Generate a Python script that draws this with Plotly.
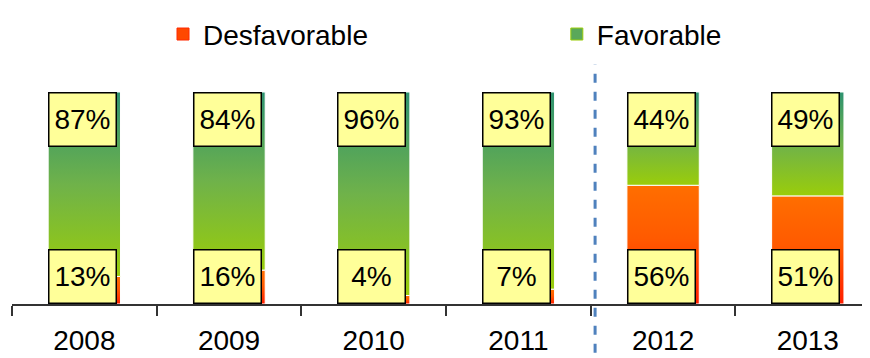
import plotly.graph_objects as go

years = ["2008", "2009", "2010", "2011", "2012", "2013"]
desfavorable = [13, 16, 4, 7, 56, 51]
favorable = [87, 84, 96, 93, 44, 49]

FONT = "Liberation Sans, Arial, sans-serif"
HALF = 0.25  # half bar width in category units

RED_SCALE = [[0, "#ff1f00"], [0.55, "#ff5a00"], [1, "#ff6e00"]]
GREEN_SCALE = [[0, "#9acd0a"], [0.5, "#6fb24a"], [1, "#2e9270"]]

fig = go.Figure()


def add_segment(i, lo, hi, scale, name):
    fig.add_trace(
        go.Scatter(
            x=[i - HALF, i + HALF, i + HALF, i - HALF, i - HALF],
            y=[lo, lo, hi, hi, lo],
            mode="lines",
            fill="toself",
            fillgradient=dict(type="vertical", colorscale=scale, start=lo, stop=hi),
            line=dict(color="white", width=1),
            name=name,
            showlegend=False,
            hoverinfo="skip",
        )
    )


for i, (d, f) in enumerate(zip(desfavorable, favorable)):
    add_segment(i, 0, d, RED_SCALE, "Desfavorable")
    add_segment(i, d, d + f, GREEN_SCALE, "Favorable")

# legend-only entries (square swatches)
fig.add_trace(go.Bar(x=[None], y=[None], name="Desfavorable", legend="legend",
                     marker=dict(color="#ff4800", line=dict(color="#ff2a00", width=1))))
fig.add_trace(go.Bar(x=[None], y=[None], name="Favorable", legend="legend2",
                     marker=dict(color="#5aa85a", line=dict(color="#9acd0a", width=1))))

# percentage label boxes
for i, (d, f) in enumerate(zip(desfavorable, favorable)):
    for val, ypos in ((d, 13.2), (f, 87.2)):
        fig.add_annotation(
            x=i, y=ypos, xref="x", yref="y",
            text=f"{val}%", showarrow=False,
            font=dict(family=FONT, size=28, color="black"),
            bgcolor="#ffff99", bordercolor="black", borderwidth=1.5,
            borderpad=2, width=62, height=48, xshift=-2,
        )

# separator line between 2011 and 2012
fig.add_shape(
    type="line", xref="x", yref="paper",
    x0=3.53, x1=3.53, y0=-0.23, y1=1.13,
    line=dict(color="#4f81bd", width=3, dash="dash"),
)

legend_style = dict(
    orientation="h", yanchor="top", y=1.39, xanchor="left",
    font=dict(family=FONT, size=28, color="black"),
    bgcolor="rgba(0,0,0,0)", itemwidth=30,
)

# page body has an 8px margin, so the figure is sized/offset to compensate
fig.update_layout(
    width=862, height=350,
    margin=dict(l=4, r=0, t=84, b=54, autoexpand=False),
    paper_bgcolor="white", plot_bgcolor="white",
    font=dict(family=FONT, size=28, color="black"),
    legend=dict(legend_style, x=0.176),
    legend2=dict(legend_style, x=0.635),
    xaxis=dict(
        range=[-0.5, 5.43],
        tickvals=list(range(len(years))), ticktext=years,
        ticks="", showgrid=False, zeroline=False,
        showline=True, linecolor="#333333", linewidth=1.5,
        tickfont=dict(family=FONT, size=28, color="black"),
        ticklabelstandoff=11,
        minor=dict(tickvals=[k - 0.5 for k in range(len(years) + 1)],
                   ticks="outside", ticklen=10, tickwidth=1.5,
                   tickcolor="#333333", showgrid=False),
    ),
    yaxis=dict(range=[0, 100], visible=False, fixedrange=True),
    showlegend=True,
)

fig.write_html("out.html")
